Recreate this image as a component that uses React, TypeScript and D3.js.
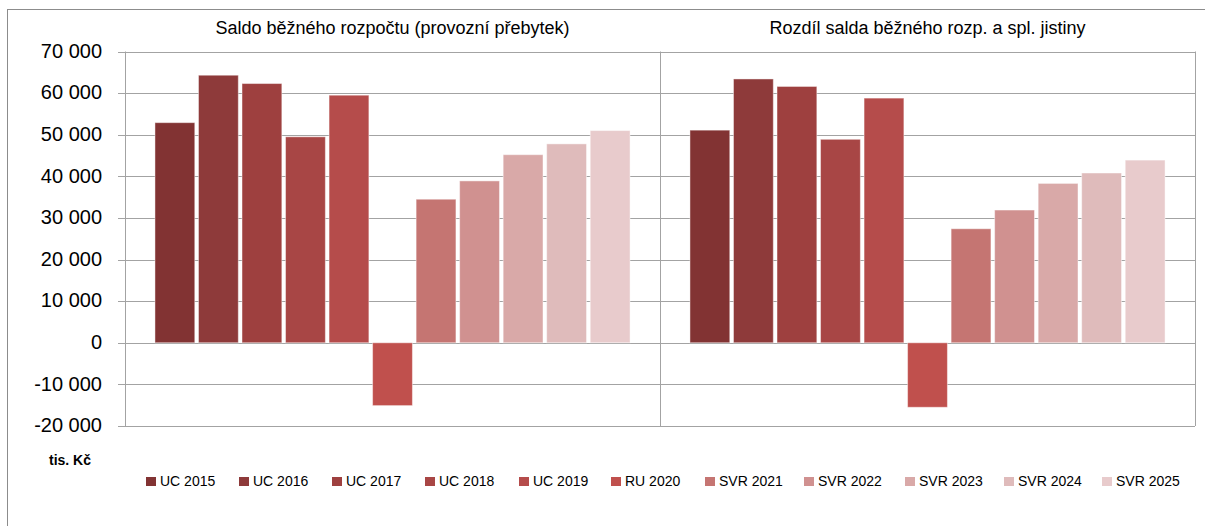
import React from "react";
import * as d3 from "d3";

const categories = ["Saldo běžného rozpočtu (provozní přebytek)", "Rozdíl salda běžného rozp. a spl. jistiny"];
const seriesNames = ["UC 2015", "UC 2016", "UC 2017", "UC 2018", "UC 2019", "RU 2020", "SVR 2021", "SVR 2022", "SVR 2023", "SVR 2024", "SVR 2025"];
const seriesColors = ["#823333", "#8e3a3a", "#9e403f", "#a84645", "#b54c4b", "#c0504d", "#c57572", "#d09190", "#d9a9a8", "#dfbbbb", "#e8cbcc"];
const saldoValues = [52900, 64300, 62300, 49500, 59500, -15100, 34500, 38900, 45200, 47800, 51000];
const rozdilValues = [51100, 63400, 61600, 48900, 58800, -15500, 27400, 31900, 38300, 40800, 43900];
const yTicks = [-20000, -10000, 0, 10000, 20000, 30000, 40000, 50000, 60000, 70000];
const legendX = [146, 239, 332, 425, 519, 611, 705, 804, 905, 1004, 1102];

const values = [saldoValues, rozdilValues];

export default function App() {
  const W = 1205, H = 526;
  const x0 = 125, x1 = 1195, yTop = 51.5, yBot = 426;
  const y = d3.scaleLinear().domain([-20000, 70000]).range([yBot, yTop]);
  const xCat = d3.scaleBand<string>().domain(categories).range([x0, x1]).paddingInner(0.112).paddingOuter(0.056);
  const xSer = d3.scaleBand<string>().domain(seriesNames).range([0, xCat.bandwidth()]).paddingInner(0.085).paddingOuter(0);
  const fmt = (v: number) => {
    const s = d3.format(",")(Math.abs(v)).replace(/,/g, " ");
    return (v < 0 ? "-" : "") + s;
  };
  const step = xCat.step();
  const font = "'Liberation Sans', Arial, sans-serif";
  const grid = "#a3a3a3";
  return (
    <svg width={W} height={H} style={{ position: "absolute", left: 0, top: 0 }} fontFamily={font}>
      <rect x={0} y={0} width={W} height={H} fill="#fff" />
      <line x1={7.5} x2={7.5} y1={9} y2={H} stroke="#8c8c8c" />
      <line x1={7} x2={W} y1={9.5} y2={9.5} stroke="#8c8c8c" />
      {yTicks.map((t) => (
        <g key={t}>
          <line x1={x0 - 7} x2={x1} y1={Math.round(y(t)) + 0.5} y2={Math.round(y(t)) + 0.5} stroke={grid} />
          <text x={102} y={y(t) + 1} textAnchor="end" dominantBaseline="middle" fontSize={20} fill="#000">
            {fmt(t)}
          </text>
        </g>
      ))}
      <line x1={x0 + 0.5} x2={x0 + 0.5} y1={yTop} y2={yBot} stroke={grid} />
      <line x1={x0 + step + 0.5} x2={x0 + step + 0.5} y1={yTop} y2={yBot} stroke={grid} />
      <line x1={x1 + 0.5} x2={x1 + 0.5} y1={yTop} y2={yBot} stroke={grid} />
      {categories.map((c, ci) => (
        <g key={c}>
          {values[ci].map((v, si) => {
            const bx = (xCat(c) as number) + (xSer(seriesNames[si]) as number);
            const top = Math.min(y(v), y(0));
            const h = Math.abs(y(v) - y(0));
            return (
              <rect key={si} x={bx} y={top} width={xSer.bandwidth()} height={h} fill={seriesColors[si]} stroke="rgba(255,255,255,0.45)" strokeWidth={1} />
            );
          })}
          <text x={x0 + step * ci + step / 2} y={34} textAnchor="middle" fontSize={18} fill="#000">
            {c}
          </text>
        </g>
      ))}
      <text x={49} y={465} fontSize={14} fontWeight="bold" fill="#000">tis. Kč</text>
      {seriesNames.map((s, i) => (
        <g key={s}>
          <rect x={legendX[i]} y={477} width={10} height={9} fill={seriesColors[i]} />
          <text x={legendX[i] + 14} y={486} fontSize={14} fill="#000">{s}</text>
        </g>
      ))}
    </svg>
  );
}
